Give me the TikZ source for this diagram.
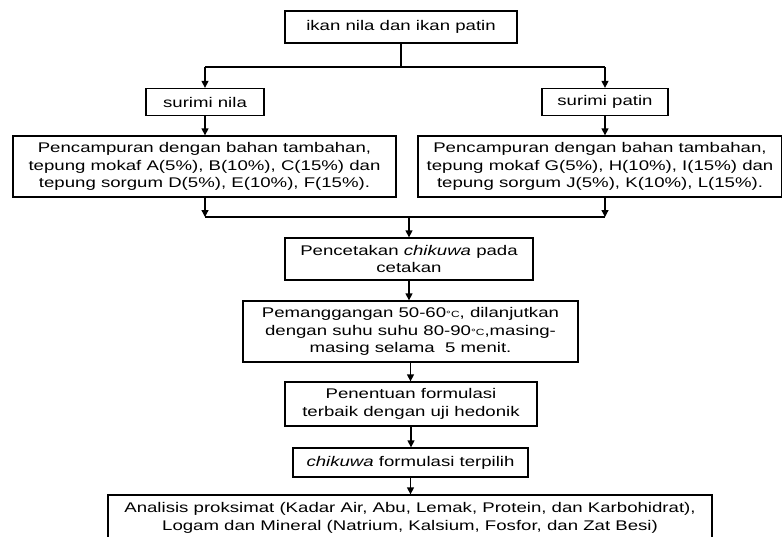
\documentclass[tikz,border=0pt]{standalone}
\usepackage{fontspec}
\setmainfont{Liberation Sans}[FakeStretch=1.33]
\usetikzlibrary{arrows.meta}
\newcommand{\degc}{{\fontsize{9}{9}\selectfont °C}}
\begin{document}
\begin{tikzpicture}[x=1pt,y=-1pt,
  box/.style={draw,line width=1.3pt,inner sep=0pt,align=center,font=\fontsize{14}{17.5}\selectfont},
  conn/.style={line width=1.3pt},
  arr/.style={line width=1.3pt,-{Triangle[length=7pt,width=7pt]}}]
\clip (0,0) rectangle (782,536);
\fill[white] (0,0) rectangle (782,536);
\node[box,minimum width=232pt,minimum height=32pt] (top) at (401,27) {ikan nila dan ikan patin};
\node[box,minimum width=118pt,minimum height=27pt] (sn) at (205,102) {surimi nila};
\node[box,minimum width=126pt,minimum height=27pt] (sp) at (605,102) {surimi patin};
\node[box,minimum width=383pt,minimum height=61pt] (mixL) at (204.5,166.5) {Pencampuran dengan bahan tambahan,\\tepung mokaf A(5\%), B(10\%), C(15\%) dan\\tepung sorgum D(5\%), E(10\%), F(15\%).};
\node[box,minimum width=364pt,minimum height=61pt] (mixR) at (600,166.5) {Pencampuran dengan bahan tambahan,\\tepung mokaf G(5\%), H(10\%), I(15\%) dan\\tepung sorgum J(5\%), K(10\%), L(15\%).};
\node[box,minimum width=248pt,minimum height=42pt] (cetak) at (409,259) {Pencetakan \textit{chikuwa} pada\\cetakan};
\node[box,minimum width=335pt,minimum height=61pt] (panggang) at (410.5,331.5) {Pemanggangan 50-60\degc, dilanjutkan\\dengan suhu suhu 80-90\degc,masing-\\masing selama\ \ 5 menit.};
\node[box,minimum width=252pt,minimum height=44pt] (tentu) at (411,404) {Penentuan formulasi\\terbaik dengan uji hedonik};
\node[box,minimum width=235pt,minimum height=29pt] (pilih) at (410.5,462.5) {\textit{chikuwa} formulasi terpilih};
\node[box,minimum width=604pt,minimum height=46pt] (analisis) at (410,518) {Analisis proksimat (Kadar Air, Abu, Lemak, Protein, dan Karbohidrat),\\Logam dan Mineral (Natrium, Kalsium, Fosfor, dan Zat Besi)};
\coordinate (j1) at (401,67);
\coordinate (j2) at (409,217);
\draw[conn] (top) -- (j1);
\draw[conn] (j1) -- (j1 -| sn) (j1) -- (j1 -| sp);
\draw[arr] (j1 -| sn) -- (sn);
\draw[arr] (j1 -| sp) -- (sp);
\draw[arr] (sn) -- (sn |- mixL.north);
\draw[arr] (sp) -- (sp |- mixR.north);
\draw[arr] (sn |- mixL.south) -- (sn |- j2);
\draw[arr] (sp |- mixR.south) -- (sp |- j2);
\draw[conn] (sn |- j2) -- (sp |- j2);
\draw[arr] (j2) -- (cetak);
\draw[arr] (cetak) -- (cetak |- panggang.north);
\draw[arr] (panggang) -- (panggang |- tentu.north);
\draw[arr] (tentu) -- (tentu |- pilih.north);
\draw[arr] (pilih) -- (pilih |- analisis.north);
\end{tikzpicture}
\end{document}
